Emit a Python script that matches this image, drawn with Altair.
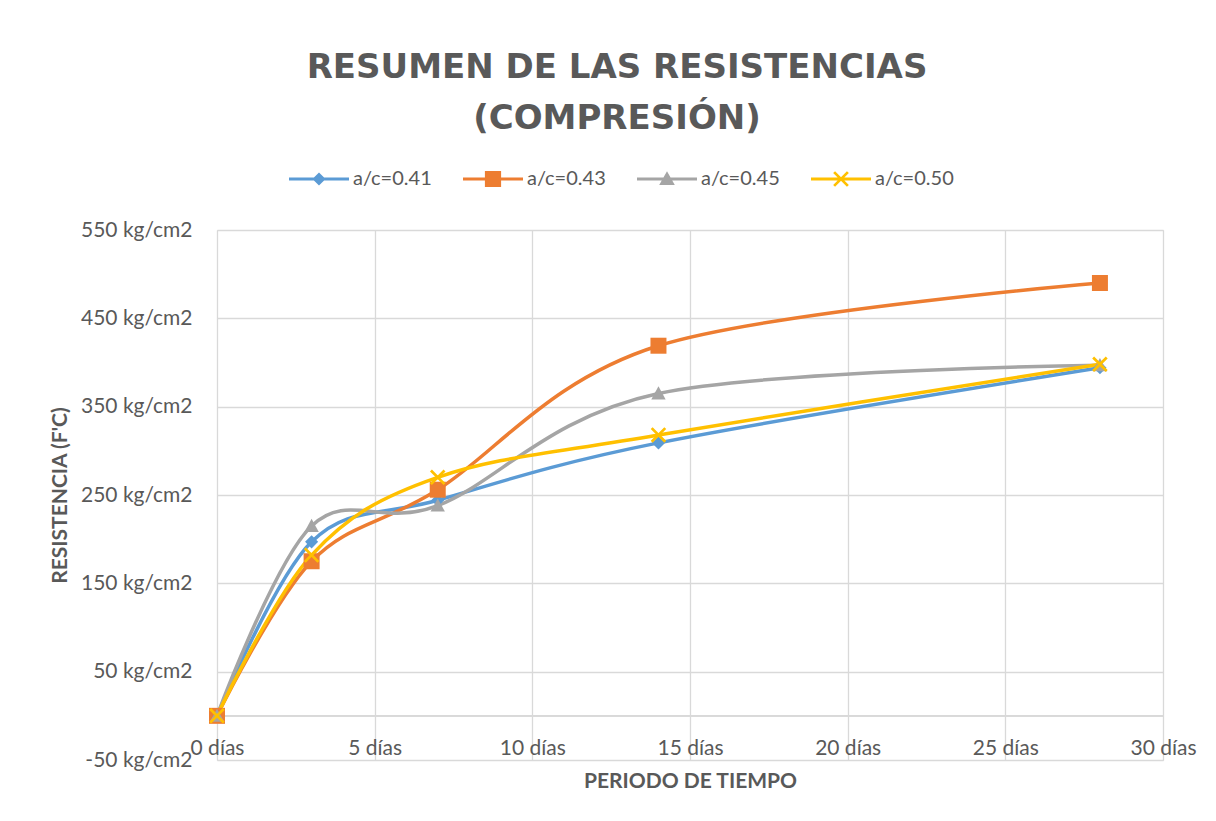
import altair as alt
import pandas as pd

# ---- data ----
days = [0, 3, 7, 14, 28]
series_names = ["a/c=0.41", "a/c=0.43", "a/c=0.45", "a/c=0.50"]
res_041 = [0, 197, 244, 309, 394]
res_043 = [0, 175, 256, 419, 490]
res_045 = [0, 215, 238, 365, 397]
res_050 = [0, 182, 270, 318, 398]
x_ticks = [0, 5, 10, 15, 20, 25, 30]
y_ticks = [-50, 50, 150, 250, 350, 450, 550]
title_lines = ["RESUMEN DE LAS RESISTENCIAS", "(COMPRESIÓN)"]
x_title = "PERIODO DE TIEMPO"
y_title = "RESISTENCIA (F'C)"

# ---- styles ----
colors = ["#5B9BD5", "#ED7D31", "#A5A5A5", "#FFC000"]
TXT = "#595959"
GRID = "#D9D9D9"
FONT = "Lato"

# marker paths for the plotted points (scaled by sqrt(size)/2)
MK_DIAMOND = "M0,-0.82L0.82,0L0,0.82L-0.82,0Z"
MK_SQUARE = "M-1,-1L1,-1L1,1L-1,1Z"
MK_TRIANGLE = "M0,-0.9L0.9,0.75L-0.9,0.75Z"
MK_X = ("M-0.73,-0.97L0.97,0.73L0.73,0.97L-0.97,-0.73Z"
        "M0.97,-0.73L-0.73,0.97L-0.97,0.73L0.73,-0.97Z")
marker_paths = [MK_DIAMOND, MK_SQUARE, MK_TRIANGLE, MK_X]

# legend symbols: line segment + marker
LN = "M-1,-0.05L1,-0.05L1,0.05L-1,0.05Z"
LG_DIAMOND = LN + "M0,-0.22L0.22,0L0,0.22L-0.22,0Z"
LG_SQUARE = LN + "M-0.27,-0.27L0.27,-0.27L0.27,0.27L-0.27,0.27Z"
LG_TRIANGLE = LN + "M0,-0.26L0.26,0.2L-0.26,0.2Z"
LG_X = (LN + "M-0.198,-0.262L0.262,0.198L0.198,0.262L-0.262,-0.198Z"
        "M0.262,-0.198L-0.198,0.262L-0.262,0.198L0.198,-0.262Z")
legend_paths = [LG_DIAMOND, LG_SQUARE, LG_TRIANGLE, LG_X]

rows = []
for name, vals in zip(series_names, [res_041, res_043, res_045, res_050]):
    for d, v in zip(days, vals):
        rows.append({"serie": name, "dias": d, "res": v})
df = pd.DataFrame(rows)

x_enc = alt.X(
    "dias:Q",
    scale=alt.Scale(domain=[0, 30], nice=False, zero=False),
    axis=alt.Axis(
        values=x_ticks, labelExpr="datum.value + ' días'", grid=True,
        gridColor=GRID, gridWidth=1.3, domain=False, ticks=False, tickSize=0,
        labelPadding=-12, labelBaseline="middle", labelFont=FONT, labelFontSize=21,
        labelColor=TXT, labelFlush=False, labelOverlap=False,
        title=x_title, titleFont=FONT, titleFontSize=21, titleFontWeight="bold",
        titleColor=TXT, titleY=21, titleBaseline="middle",
    ),
)
y_enc = alt.Y(
    "res:Q",
    scale=alt.Scale(domain=[-50, 550], nice=False, zero=False),
    axis=alt.Axis(
        values=y_ticks, labelExpr="datum.value + ' kg/cm2'", grid=True,
        gridColor=GRID, gridWidth=1.3, domain=False, ticks=False, tickSize=0,
        labelPadding=25, labelFont=FONT, labelFontSize=21, labelColor=TXT,
        labelFlush=False, labelOverlap=False,
        title=y_title, titleFont=FONT, titleFontSize=21, titleFontWeight="bold",
        titleColor=TXT, titleX=-157, titleY=265, titleBaseline="middle", titleAngle=270,
    ),
)

color_scale = alt.Scale(domain=series_names, range=colors)

zero_line = alt.Chart(df).mark_rule(color=GRID, strokeWidth=1.5).encode(y=alt.datum(0))

lines = alt.Chart(df).mark_line(interpolate="cardinal", strokeWidth=3.5).encode(
    x=x_enc, y=y_enc,
    color=alt.Color("serie:N", scale=color_scale, legend=None),
)

points = alt.Chart(df).mark_point(filled=True, opacity=1, size=256).encode(
    x=x_enc, y=y_enc,
    color=alt.Color("serie:N", scale=color_scale, legend=None),
    shape=alt.Shape("serie:N", scale=alt.Scale(domain=series_names, range=marker_paths), legend=None),
)

leg_props = dict(
    title=None, orient="none", direction="horizontal", legendX=72, legendY=-81,
    symbolSize=3600, labelFont=FONT, labelFontSize=20, labelColor=TXT,
    labelOffset=4, columnPadding=31, symbolStrokeWidth=0,
)
legend_layer = alt.Chart(df).transform_filter("false").mark_point(filled=True, opacity=1).encode(
    x=x_enc, y=y_enc,
    color=alt.Color("serie:N", scale=color_scale, legend=alt.Legend(**leg_props)),
    shape=alt.Shape("serie:N", scale=alt.Scale(domain=series_names, range=legend_paths),
                    legend=alt.Legend(**leg_props)),
)

chart = alt.layer(zero_line, lines, points, legend_layer).resolve_scale(
    color="independent", shape="independent"
).properties(
    width=946, height=530,
    autosize=alt.AutoSizeParams(type="none"),
    padding={"left": 209, "top": 222, "right": 45, "bottom": 53},
    title=alt.TitleParams(
        text=title_lines, font="DejaVu Sans", fontSize=34, fontWeight="bold",
        color=TXT, anchor="middle", frame="group", dx=-73, offset=13, lineHeight=51,
    ),
).configure_view(stroke="transparent").configure(background="white")

chart.save("out.html", embed_options={"renderer": "svg", "actions": False})
